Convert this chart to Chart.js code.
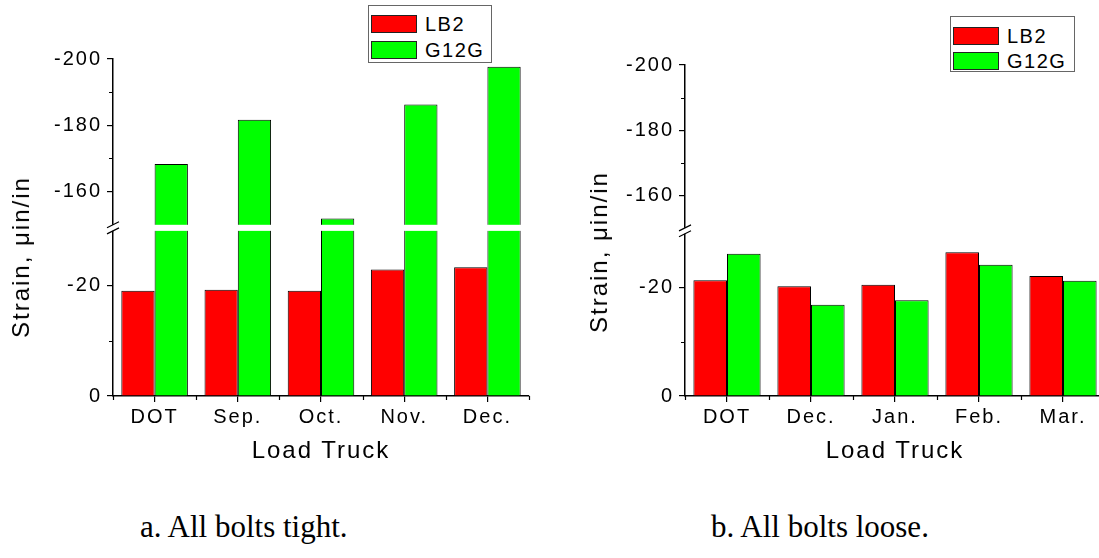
<!DOCTYPE html>
<html>
<head>
<meta charset="utf-8">
<script src="https://cdn.jsdelivr.net/npm/chart.js@4.4.1/dist/chart.umd.min.js"></script>
<style>
  body { margin: 0; width: 1099px; height: 558px; overflow: hidden; position: relative; background: #fff; color: #000;
         font-family: "Liberation Sans", Arial, sans-serif; }
  canvas { position: absolute; top: 0; }
  .ytitle { position: absolute; font-size: 24px; line-height: 24px; letter-spacing: 2px; white-space: nowrap;
            transform: translate(-50%, -50%) rotate(-90deg); }
  .xtitle { position: absolute; font-size: 24px; line-height: 24px; letter-spacing: 2px; white-space: nowrap;
            transform: translateX(-50%); }
  .caption { position: absolute; font-family: "Liberation Serif", "Times New Roman", serif; font-size: 31px;
             line-height: 31px; white-space: nowrap; }
  .legend { position: absolute; border: 1px solid #666; background: #fff; box-sizing: border-box; }
  .legend .row { position: absolute; left: 2px; height: 18px; }
  .legend .sw { position: absolute; left: 0; top: 0; width: 46px; height: 18px; box-sizing: border-box; border: 1px solid #222; }
  .legend .lbl { position: absolute; left: 54px; top: -2px; font-size: 20px; line-height: 22px; letter-spacing: 1.5px; }
</style>
</head>
<body>
<canvas id="tight" width="550" height="480" style="left:0"></canvas>
<canvas id="loose" width="560" height="480" style="left:550px"></canvas>

<div class="ytitle" style="left:21px; top:257px">Strain, &mu;in/in</div>
<div class="ytitle" style="left:599px; top:252px">Strain, &mu;in/in</div>
<div class="xtitle" style="left:321px; top:438px">Load Truck</div>
<div class="xtitle" style="left:895px; top:438px">Load Truck</div>
<div class="caption" style="left:140px; top:511px">a. All bolts tight.</div>
<div class="caption" style="left:711px; top:511px">b. All bolts loose.</div>

<div class="legend" id="legTight" style="left:368px; top:5px; width:124px; height:58px"></div>
<div class="legend" id="legLoose" style="left:950px; top:16px; width:125px; height:56px"></div>

<script>
const seriesNames = ["LB2", "G12G"];
const seriesColors = ["#ff0000", "#00ff00"];

const tightTrucks = ["DOT", "Sep.", "Oct.", "Nov.", "Dec."];
const tightLB2 = [-19.1, -19.3, -19.1, -23.0, -23.4];
const tightG12G = [-168.3, -181.7, -151.9, -186.3, -197.7];

const looseTrucks = ["DOT", "Dec.", "Jan.", "Feb.", "Mar."];
const looseLB2 = [-21.4, -20.3, -20.6, -26.6, -22.2];
const looseG12G = [-26.3, -16.9, -17.7, -24.3, -21.3];

const yTicks = [0, -20, -160, -180, -200];
const yMinorTicks = [-10, -170, -190];
// the y axis is cut between these two values
const breakLow = -30;
const breakHigh = -150;
const yEnd = -200;

// share of the axis height used by the lower part, and where the upper part starts
const lowShare = 0.49;
const highStart = 0.508;

function toDecimal(v) {
  const m = -v;
  const lo = -breakLow, hi = -breakHigh, top = -yEnd;
  if (m <= lo) return m / lo * lowShare;
  if (m >= hi) return highStart + (m - hi) / (top - hi) * (1 - highStart);
  return lowShare + (m - lo) / (hi - lo) * (highStart - lowShare);
}
function fromDecimal(d) {
  const lo = -breakLow, hi = -breakHigh, top = -yEnd;
  let m;
  if (d <= lowShare) m = d / lowShare * lo;
  else if (d >= highStart) m = hi + (d - highStart) / (1 - highStart) * (top - hi);
  else m = lo + (d - lowShare) / (highStart - lowShare) * (hi - lo);
  return -m;
}

class BrokenScale extends Chart.LinearScale {
  getPixelForValue(value) {
    if (value === null || isNaN(value)) return NaN;
    return this.getPixelForDecimal(toDecimal(value));
  }
  getValueForPixel(pixel) {
    return fromDecimal(this.getDecimalForPixel(pixel));
  }
}
BrokenScale.id = "broken";
BrokenScale.defaults = Chart.LinearScale.defaults;
Chart.register(BrokenScale);

Chart.defaults.font.family = '"Liberation Sans", Arial, sans-serif';
Chart.defaults.color = "#000";

const breakPlugin = {
  id: "axisBreak",
  beforeDraw(chart) {
    chart.ctx.letterSpacing = "2px";
  },
  afterDatasetsDraw(chart) {
    const { ctx, chartArea: a, scales: { y } } = chart;
    const p1 = y.getPixelForValue(breakHigh), p2 = y.getPixelForValue(breakLow);
    ctx.save();
    ctx.fillStyle = "#fff";
    ctx.fillRect(a.left + 1, p1, a.right - a.left, p2 - p1);
    ctx.restore();
  },
  afterDraw(chart) {
    const { ctx, chartArea: a, scales: { x, y } } = chart;
    ctx.save();
    ctx.strokeStyle = "#000";
    ctx.lineWidth = 1.2;
    // minor ticks
    ctx.beginPath();
    yMinorTicks.forEach(v => {
      const p = Math.round(y.getPixelForValue(v)) + 0.5;
      ctx.moveTo(a.left - 4, p);
      ctx.lineTo(a.left, p);
    });
    for (let i = 0; i <= x.ticks.length; i++) {
      const px = Math.round(x.getPixelForValue(i - 0.5)) + 0.5;
      ctx.moveTo(px, a.bottom);
      ctx.lineTo(px, a.bottom + 4);
    }
    ctx.stroke();
    // break mark on the y axis
    const p1 = y.getPixelForValue(breakHigh), p2 = y.getPixelForValue(breakLow);
    ctx.fillStyle = "#fff";
    ctx.fillRect(a.left - 3, p1, 6, p2 - p1);
    ctx.beginPath();
    [p1, p2].forEach(p => {
      ctx.moveTo(a.left - 6, p + 3);
      ctx.lineTo(a.left + 6, p - 3);
    });
    ctx.stroke();
    ctx.restore();
  }
};

function makeChart(id, trucks, lb2, g12g, axisWidth, pad) {
  const datasets = [lb2, g12g].map((vals, i) => ({
    label: seriesNames[i],
    data: vals,
    backgroundColor: seriesColors[i],
    borderColor: "#000",
    borderWidth: 1,
    categoryPercentage: 0.8,
    barPercentage: 1.0
  }));
  return new Chart(document.getElementById(id), {
    type: "bar",
    data: { labels: trucks, datasets },
    options: {
      responsive: false,
      animation: false,
      layout: { padding: pad },
      plugins: { legend: { display: false }, tooltip: { enabled: false } },
      scales: {
        x: {
          z: 1,
          grid: { drawOnChartArea: false, offset: false, tickLength: 6, color: "#000", lineWidth: 1.2 },
          border: { color: "#000", width: 1.5 },
          ticks: { font: { size: 20 }, padding: 3 },
          afterFit: s => { s.height = 84; }
        },
        y: {
          type: "broken",
          z: 1,
          min: yEnd,
          max: 0,
          grid: { drawOnChartArea: false, tickLength: 6, color: "#000", lineWidth: 1.2 },
          border: { color: "#000", width: 1.5 },
          ticks: { font: { size: 20 }, padding: 5, autoSkip: false, callback: v => String(v) },
          afterBuildTicks: s => { s.ticks = yTicks.map(v => ({ value: v })); },
          afterFit: s => { s.width = axisWidth; }
        }
      }
    },
    plugins: [breakPlugin]
  });
}

makeChart("tight", tightTrucks, tightLB2, tightG12G, 113, { top: 59, right: 21, left: 0, bottom: 0 });
makeChart("loose", looseTrucks, looseLB2, looseG12G, 135, { top: 65, right: 5, left: 0, bottom: 0 });

function buildLegend(id, tops) {
  const box = document.getElementById(id);
  seriesNames.forEach((name, i) => {
    const row = document.createElement("div");
    row.className = "row";
    row.style.top = tops[i] + "px";
    row.innerHTML = '<div class="sw" style="background:' + seriesColors[i] + '"></div><div class="lbl">' + name + "</div>";
    box.appendChild(row);
  });
}
buildLegend("legTight", [9, 35]);
buildLegend("legLoose", [10, 35]);
</script>
</body>
</html>
